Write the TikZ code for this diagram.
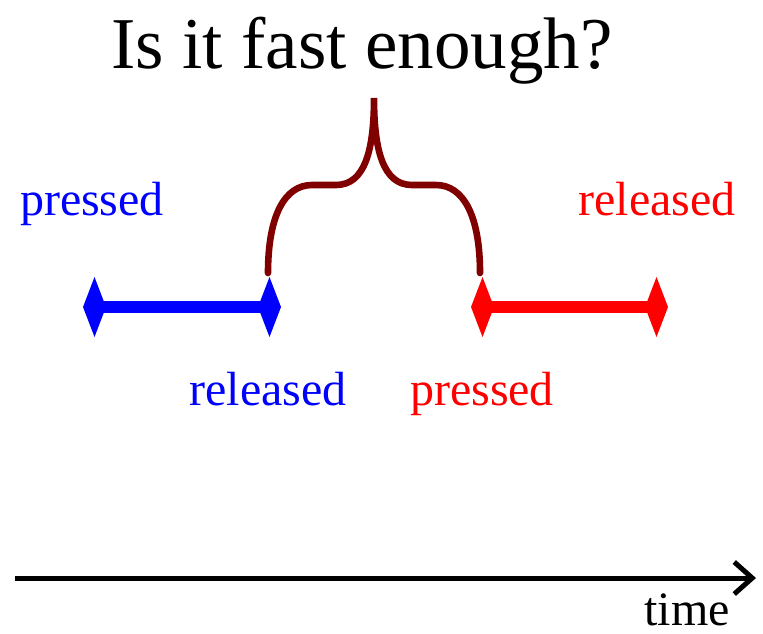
\documentclass[tikz,border=0pt]{standalone}
\usepackage{fontspec}
\setmainfont{Liberation Serif}
\usetikzlibrary{arrows.meta}
\definecolor{darkbrace}{RGB}{128,0,0}
\tikzset{
  lbl/.style={anchor=base,inner sep=0pt,font=\fontsize{24}{28}\selectfont},
  interval/.style={line width=6pt,{Diamond[length=11.5pt,width=30pt]}-{Diamond[length=11.5pt,width=30pt]}}
}

\begin{document}
\begin{tikzpicture}[x=0.5pt,y=-0.5pt]
\useasboundingbox (0,0) rectangle (763,633);
\node[anchor=base,inner sep=0pt,font=\fontsize{36.5}{44}\selectfont] (title) at (362,68) {Is it fast enough?};
% first press
\coordinate (p1) at (83,307);
\coordinate (r1) at (281,307);
\draw[interval,blue] (p1) -- (r1);
\node[lbl,blue] (p1lbl) at (92,215) {pressed};
\node[lbl,blue] (r1lbl) at (268,405) {released};
% second press
\coordinate (p2) at (471,307);
\coordinate (r2) at (668,307);
\draw[interval,red] (p2) -- (r2);
\node[lbl,red] (p2lbl) at (482,405) {pressed};
\node[lbl,red] (r2lbl) at (657,215) {released};
% gap
\coordinate (bl) at (268,273);
\coordinate (br) at (480,273);
\coordinate (tip) at (374,98);
\draw[darkbrace,line width=3.3pt,line cap=round] (bl) .. controls (268,215) and (285,185) .. (312,185)
  -- (336,185) .. controls (365,185) and (374,150) .. (tip)
  .. controls (374,150) and (383,185) .. (412,185) -- (436,185)
  .. controls (463,185) and (480,215) .. (br);
% time axis
\coordinate (t0) at (15,578);
\coordinate (t1) at (756,578);
\draw[line width=2.5pt,-{Straight Barb[length=9pt,width=16pt]}] (t0) -- (t1);
\node[lbl] (time) at (687,625) {time};
\end{tikzpicture}
\end{document}
